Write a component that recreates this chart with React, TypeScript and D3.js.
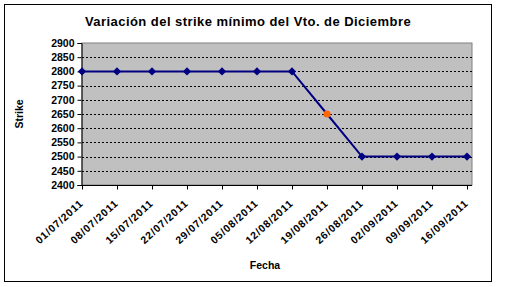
import React, { useEffect, useRef } from "react";
import * as d3 from "d3";

const dates = [
  "01/07/2011", "08/07/2011", "15/07/2011", "22/07/2011", "29/07/2011", "05/08/2011",
  "12/08/2011", "19/08/2011", "26/08/2011", "02/09/2011", "09/09/2011", "16/09/2011",
];
const strikes = [2800, 2800, 2800, 2800, 2800, 2800, 2800, 2650, 2500, 2500, 2500, 2500];
const highlighted = [false, false, false, false, false, false, false, true, false, false, false, false];
const yTicks = [2400, 2450, 2500, 2550, 2600, 2650, 2700, 2750, 2800, 2850, 2900];
const title = "Variación del strike mínimo del Vto. de Diciembre";
const xTitle = "Fecha";
const yTitle = "Strike";

const W = 505, H = 287;
const plot = { left: 82, right: 472, top: 43, bottom: 185 };
const FONT = "'Liberation Sans', Arial, sans-serif";

export default function App() {
  const ref = useRef<SVGSVGElement>(null);
  useEffect(() => {
    const svg = d3.select(ref.current);
    svg.selectAll("*").remove();
    svg.append("rect").attr("width", W).attr("height", H).attr("fill", "#fff");
    svg.append("rect").attr("x", 4.5).attr("y", 4.5).attr("width", 487).attr("height", 277)
      .attr("fill", "none").attr("stroke", "#000").attr("stroke-width", 1);

    const x = d3.scalePoint<string>().domain(dates).range([plot.left, 467]);
    const y = d3.scaleLinear().domain([2400, 2900]).range([plot.bottom, plot.top]);

    svg.append("rect").attr("x", plot.left).attr("y", plot.top)
      .attr("width", plot.right - plot.left).attr("height", plot.bottom - plot.top)
      .attr("fill", "#c0c0c0").attr("stroke", "#808080").attr("stroke-width", 1);

    // gridlines
    svg.append("g").selectAll("line").data(yTicks.filter(t => t > 2400 && t < 2900)).join("line")
      .attr("x1", plot.left).attr("x2", plot.right)
      .attr("y1", d => Math.round(y(d)) + 0.5).attr("y2", d => Math.round(y(d)) + 0.5)
      .attr("stroke", "#000").attr("stroke-dasharray", "2,2").attr("stroke-width", 1);

    // y axis
    const ya = svg.append("g").attr("transform", `translate(${plot.left - 0.5},0)`)
      .call(d3.axisLeft(y).tickValues(yTicks).tickSize(4).tickPadding(3).tickFormat(d3.format("d")));
    ya.select(".domain").attr("stroke", "#000");
    ya.selectAll("text").attr("font-family", FONT).attr("font-weight", "bold").attr("font-size", 10.5).attr("fill", "#000");

    // x axis
    const xa = svg.append("g").attr("transform", `translate(0,${plot.bottom + 0.5})`)
      .call(d3.axisBottom(x).tickSize(4).tickSizeOuter(0));
    xa.select(".domain").attr("stroke", "#000").attr("d", `M${plot.left},0H${plot.right}`);
    xa.selectAll("text")
      .attr("font-family", FONT).attr("font-weight", "bold").attr("font-size", 10.5).attr("fill", "#000")
      .attr("letter-spacing", 0.8)
      .attr("text-anchor", "end").attr("dy", "0.35em")
      .attr("transform", "translate(-1,16) rotate(-42)").attr("x", 0).attr("y", 0);

    // line
    const line = d3.line<number>().x((_, i) => x(dates[i])!).y(d => y(d));
    svg.append("path").datum(strikes).attr("d", line).attr("fill", "none")
      .attr("stroke", "#000080").attr("stroke-width", 2);

    // markers
    const sq = d3.symbol().type(d3.symbolSquare).size(34);
    svg.append("g").selectAll("path").data(strikes).join("path")
      .attr("d", (_, i) => highlighted[i] ? d3.symbol().type(d3.symbolCircle).size(40)()! : sq()!)
      .attr("transform", (d, i) => highlighted[i]
        ? `translate(${x(dates[i])},${y(d)})`
        : `translate(${x(dates[i])},${y(d)}) rotate(45)`)
      .attr("fill", (_, i) => highlighted[i] ? "#ff6600" : "#000080");

    svg.append("text").attr("x", 248).attr("y", 26).attr("text-anchor", "middle")
      .attr("font-family", FONT).attr("font-weight", "bold").attr("font-size", 13)
      .attr("letter-spacing", 0.45).text(title);
    svg.append("text").attr("x", 265).attr("y", 269).attr("text-anchor", "middle")
      .attr("font-family", FONT).attr("font-weight", "bold").attr("font-size", 10.5).text(xTitle);
    svg.append("text").attr("transform", "translate(23,114) rotate(-90)").attr("text-anchor", "middle")
      .attr("font-family", FONT).attr("font-weight", "bold").attr("font-size", 10.5).text(yTitle);
  }, []);
  return <svg ref={ref} width={W} height={H} style={{ position: "absolute", left: 0, top: 0 }} />;
}
